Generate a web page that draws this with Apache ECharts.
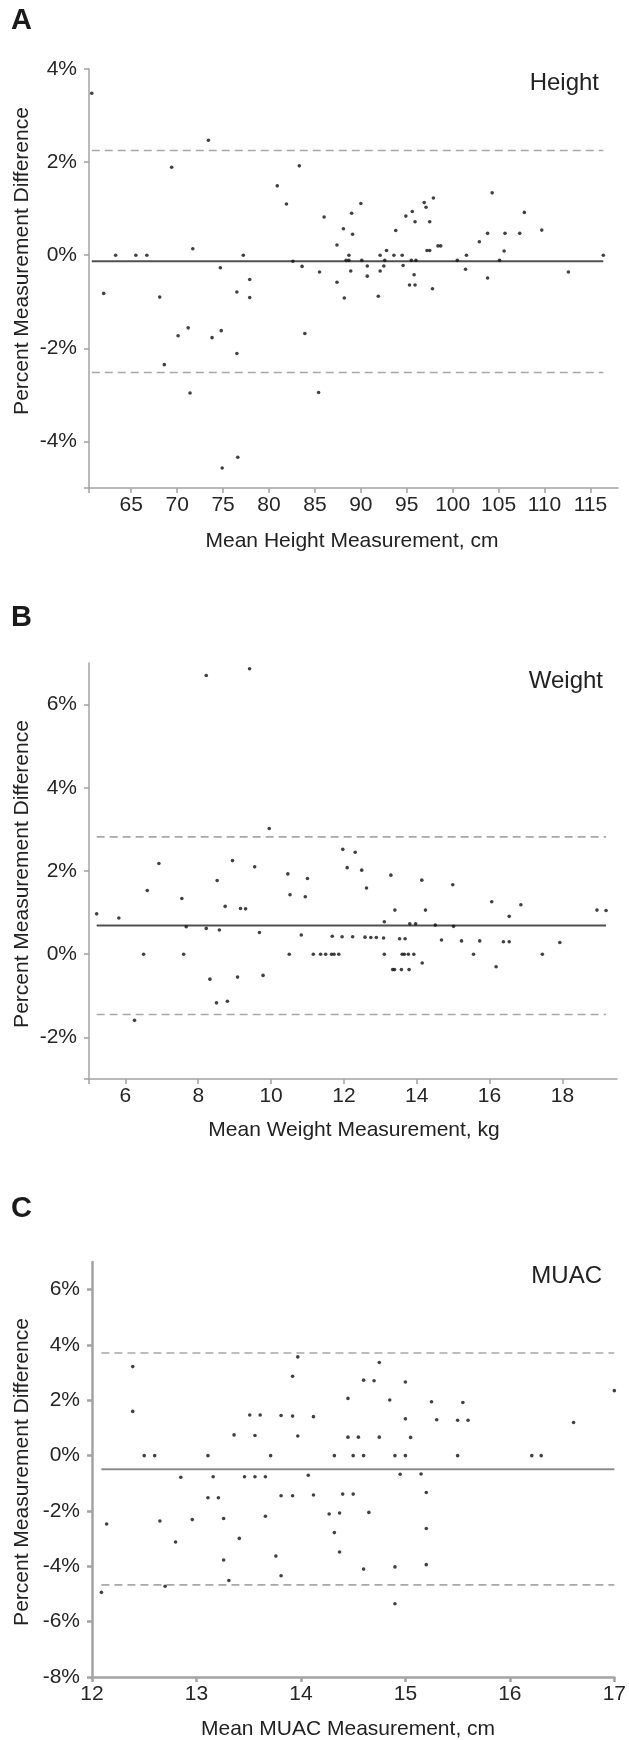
<!DOCTYPE html>
<html>
<head>
<meta charset="utf-8">
<script src="https://cdn.jsdelivr.net/npm/echarts@6/dist/echarts.min.js"></script>
<style>
html,body{margin:0;padding:0;background:#fff;}
#chart{width:629px;height:1740px;}
</style>
</head>
<body>
<div id="chart"></div>
<script>
// ---------- Panel A: Height ----------
const heightX = [60.7,62.0,63.3,65.5,66.7,68.1,68.6,69.4,70.1,71.2,71.4,71.7,73.4,73.8,74.7,74.8,74.9,76.5,76.5,76.6,77.2,77.9,77.9,80.9,81.9,82.6,83.3,83.6,83.9,85.5,85.4,86.0,87.4,87.4,
  88.2,88.1,88.4,88.7,88.7,88.9,89.0,89.1,90.0,90.1,90.7,90.7,91.9,92.1,92.1,92.5,92.6,92.8,93.6,93.8,94.5,94.6,94.9,95.3,95.5,95.6,95.8,95.9,95.9,96.0,96.9,97.1,97.2,97.5,97.5,97.8,97.9,98.4,98.7,100.5,101.4,101.5,102.9,103.8,103.8,104.3,105.1,105.6,105.7,107.3,107.8,109.7,112.6,116.4];
const heightY = [3.48,-0.82,0,0,0,-0.90,-2.35,1.89,-1.73,-1.56,-2.96,0.14,2.47,-1.77,-0.27,-1.62,-4.57,-0.79,-2.11,-4.34,0,-0.52,-0.91,1.49,1.10,-0.13,1.92,-0.24,-1.68,-0.36,-2.95,0.82,0.22,-0.58,
  -0.92,0.57,-0.11,0,-0.11,-0.34,0.90,0.45,1.11,-0.11,-0.23,-0.45,-0.88,0,-0.34,-0.23,-0.11,0.10,0,0.53,0,-0.22,0.84,-0.64,-0.11,0.94,-0.42,-0.64,0.72,-0.11,1.13,1.03,0.10,0.10,0.72,-0.72,1.23,0.20,0.20,-0.11,-0.30,0,0.29,0.47,-0.49,1.34,-0.11,0.09,0.47,0.47,0.92,0.54,-0.36,0];
const heightLines = {mean:-0.13, upper:2.25, lower:-2.52};
const heightXTicks = [65,70,75,80,85,90,95,100,105,110,115];
const heightYTicks = [-4,-2,0,2,4];

// ---------- Panel B: Weight ----------
const weightX = [5.21,5.82,6.25,6.50,6.60,6.92,7.55,7.60,7.67,8.22,8.22,8.32,8.50,8.52,8.58,8.74,8.80,8.94,9.08,9.16,9.30,9.41,9.55,9.68,9.78,9.95,10.46,10.50,10.52,10.83,10.94,11.0,11.16,11.36,11.50,11.68,11.66,11.73,
  11.86,11.95,11.97,12.09,12.24,12.31,12.49,12.58,12.62,12.74,12.89,13.09,13.11,13.11,13.29,13.34,13.39,13.40,13.53,13.58,13.60,13.66,13.68,13.77,13.79,13.81,13.92,13.97,14.14,14.15,14.24,14.51,14.68,14.99,15.01,15.23,15.56,15.73,16.06,16.18,16.38,16.54,16.54,16.86,17.45,17.93,18.95,19.20];
const weightY = [0.97,0.87,-1.59,0,1.53,2.18,1.34,0,0.66,0.62,6.70,-0.60,-1.17,1.77,0.58,1.15,-1.13,2.25,-0.55,1.10,1.09,6.86,2.10,0.52,-0.51,3.02,1.93,0,1.43,0.46,1.38,1.82,0,0,0,0.43,0,0,
  0,0.42,2.52,2.08,0.42,2.45,2.02,0.41,1.59,0.40,0.40,0.39,0.78,0,1.90,-0.37,-0.37,1.06,0.37,-0.37,0,0,0.37,0,-0.37,0.73,0,0.73,1.78,-0.21,1.06,0.70,0.34,1.67,0.67,0.32,0,0.32,1.26,-0.30,0.30,0.91,0.30,1.19,0,0.28,1.06,1.05];
const weightLines = {mean:0.69, upper:2.82, lower:-1.45};
const weightXTicks = [6,8,10,12,14,16,18];
const weightYTicks = [-2,0,2,4,6];

// ---------- Panel C: MUAC ----------
const muacX = [12.09,12.14,12.39,12.39,12.50,12.60,12.65,12.70,12.80,12.85,12.96,13.11,13.11,13.16,13.21,13.26,13.26,13.31,13.36,13.41,13.46,13.51,13.56,13.56,13.61,13.66,13.66,13.71,13.76,13.81,13.81,13.81,13.92,13.92,13.92,13.97,13.97,14.07,14.12,14.12,14.27,14.32,14.32,14.37,14.37,
  14.40,14.45,14.45,14.50,14.50,14.55,14.60,14.60,14.60,14.65,14.70,14.75,14.75,14.85,14.90,14.90,14.90,14.95,15.00,15.00,15.00,15.05,15.15,15.20,15.20,15.20,15.25,15.30,15.50,15.50,15.55,15.60,16.21,16.30,16.61,17.0];
const muacY = [-4.94,-2.47,3.22,1.60,0,0,-2.36,-4.72,-3.12,-0.78,-2.31,0,-1.52,-0.76,-1.52,-2.27,-3.77,-4.51,0.75,-2.99,-0.76,1.47,0.73,-0.76,1.47,-0.76,-2.19,0,-3.63,1.45,-1.45,-4.34,2.87,1.43,-1.45,3.57,0.71,-0.71,1.41,-1.42,-2.11,0,-2.78,-2.07,-3.48,
  -1.39,2.07,0.67,0,-1.39,0.67,2.73,0,-4.10,-2.05,2.71,3.37,0.67,2.01,0,-4.02,-5.35,-0.67,2.66,1.33,0,0.66,-0.66,-1.33,-2.63,-3.94,1.95,1.30,1.28,0,1.92,1.28,0,0,1.20,2.35];
const muacLines = {mean:-0.49, upper:3.71, lower:-4.67};
const muacXTicks = [12,13,14,15,16,17];
const muacYTicks = [-8,-6,-4,-2,0,2,4,6];

const FONT = "'Liberation Sans', Arial, Helvetica, sans-serif";
const AXIS_COLOR = '#a3a3a3';
const LABEL_COLOR = '#262626';

const panels = [
  {x:heightX, y:heightY, lines:heightLines, xTicks:heightXTicks, yTicks:heightYTicks,
   xMin:60.4, xMax:118, yMin:-5, yMax:4, axisW:1.5, meanColor:'#505050',
   grid:{left:89, top:69, width:529, height:419}},
  {x:weightX, y:weightY, lines:weightLines, xTicks:weightXTicks, yTicks:weightYTicks,
   xMin:5, xMax:19.5, yMin:-3, yMax:7, axisW:1.5, meanColor:'#505050',
   grid:{left:89, top:663, width:528, height:416}},
  {x:muacX, y:muacY, lines:muacLines, xTicks:muacXTicks, yTicks:muacYTicks,
   xMin:12, xMax:17, yMin:-8, yMax:7, axisW:2.5, meanColor:'#8c8c8c',
   grid:{left:92, top:1262, width:525, height:415}}
];

const option = {
  animation:false,
  backgroundColor:'#fff',
  grid:[], xAxis:[], yAxis:[], series:[],
  graphic:[]
};

panels.forEach((p,i)=>{
  option.grid.push(Object.assign({containLabel:false}, p.grid));
  const lineStyle = {color:AXIS_COLOR, width:p.axisW};
  const xTickVals = p.xTicks.includes(p.xMin) ? p.xTicks.slice() : [p.xMin].concat(p.xTicks);
  if (i===2) xTickVals.push(p.xMax);
  const yTickVals = p.yTicks.includes(p.yMin) ? p.yTicks.slice() : [p.yMin].concat(p.yTicks);
  option.xAxis.push({
    gridIndex:i, type:'value', min:p.xMin, max:p.xMax,
    axisLine:{show:true, onZero:false, lineStyle},
    axisTick:{show:true, customValues:xTickVals, length:5, lineStyle},
    axisLabel:{customValues:p.xTicks, fontSize:21, fontFamily:FONT, color:LABEL_COLOR, margin:7},
    splitLine:{show:false}
  });
  option.yAxis.push({
    gridIndex:i, type:'value', min:p.yMin, max:p.yMax,
    axisLine:{show:true, onZero:false, lineStyle},
    axisTick:{show:true, customValues:yTickVals, length:5, lineStyle},
    axisLabel:{customValues:p.yTicks, formatter:'{value}%', fontSize:21, fontFamily:FONT, color:LABEL_COLOR, margin:12},
    splitLine:{show:false}
  });
  const x0 = Math.min(...p.x), x1 = Math.max(...p.x);
  const mk = (v, style)=>({
    type:'line', xAxisIndex:i, yAxisIndex:i, symbol:'none', silent:true, z:1, clip:false,
    data:[[x0,v],[x1,v]], lineStyle:style
  });
  option.series.push(mk(p.lines.upper, {color:'#a8a8a8', width:1.6, type:[8,5]}));
  option.series.push(mk(p.lines.lower, {color:'#a8a8a8', width:1.6, type:[8,5]}));
  option.series.push(mk(p.lines.mean, {color:p.meanColor, width:2}));
  option.series.push({
    type:'scatter', xAxisIndex:i, yAxisIndex:i, z:3, clip:false,
    data:p.x.map((v,k)=>[v,p.y[k]]),
    symbol:'circle', symbolSize:3.6, itemStyle:{color:'#111'}
  });
});

const txt = (text, x, y, opts)=>Object.assign({
  type:'text', x, y,
  style:Object.assign({text, fill:'#222', font:'21px '+FONT, align:'center', verticalAlign:'middle'}, opts||{})
});

option.graphic = [
  txt('A', 11, 21, {font:'bold 29px '+FONT, align:'left', fill:'#1a1a1a'}),
  txt('B', 11, 618, {font:'bold 29px '+FONT, align:'left', fill:'#1a1a1a'}),
  txt('C', 11, 1209, {font:'bold 29px '+FONT, align:'left', fill:'#1a1a1a'}),
  txt('Height', 599, 83, {font:'24px '+FONT, align:'right'}),
  txt('Weight', 603, 681, {font:'24px '+FONT, align:'right'}),
  txt('MUAC', 602, 1276, {font:'24px '+FONT, align:'right'}),
  txt('Mean Height Measurement, cm', 352, 541),
  txt('Mean Weight Measurement, kg', 354, 1130),
  txt('Mean MUAC Measurement, cm', 348, 1729),
  Object.assign(txt('Percent Measurement Difference', 0, 0), {x:22, y:261, rotation:Math.PI/2}),
  Object.assign(txt('Percent Measurement Difference', 0, 0), {x:22, y:874, rotation:Math.PI/2}),
  Object.assign(txt('Percent Measurement Difference', 0, 0), {x:22, y:1472, rotation:Math.PI/2})
];

const chart = echarts.init(document.getElementById('chart'), null, {renderer:'canvas', width:629, height:1740});
chart.setOption(option);
</script>
</body>
</html>
